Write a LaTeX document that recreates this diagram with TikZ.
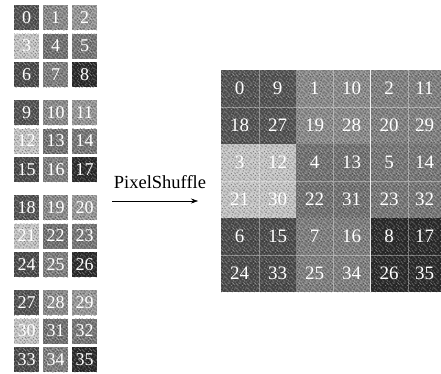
\documentclass[tikz,border=0pt]{standalone}
\usepackage{fontspec}
\setmainfont{Liberation Serif}
\usetikzlibrary{arrows.meta,patterns}
\pgfdeclarepatternformonly{noiseW}{\pgfpoint{0pt}{0pt}}{\pgfpoint{11pt}{11pt}}{\pgfpoint{11pt}{11pt}}{%
  \foreach \p/\q in {0/0,3/1,7/0,5/2,1/3,8/3,4/4,9/5,2/5,6/6,0/7,3/8,7/8,5/9,1/9,8/7,6/1,2/2,10/4,10/10,4/10,9/2,6/9,1/6}{%
    \pgfpathrectangle{\pgfpoint{\p pt}{\q pt}}{\pgfpoint{1pt}{1pt}}\pgfusepath{fill}}%
}
\pgfdeclarepatternformonly{noiseB}{\pgfpoint{0pt}{0pt}}{\pgfpoint{11pt}{11pt}}{\pgfpoint{11pt}{11pt}}{%
  \foreach \p/\q in {2/0,5/0,9/1,0/2,3/3,6/3,8/5,4/6,1/5,7/6,9/8,2/8,5/7,0/10,6/10,8/9,3/10,10/0,10/7,4/2,7/3,1/8}{%
    \pgfpathrectangle{\pgfpoint{\p pt}{\q pt}}{\pgfpoint{1pt}{1pt}}\pgfusepath{fill}}%
}
\begin{document}
\begin{tikzpicture}[x=1pt,y=-1pt,
  noisy/.style={postaction={fill opacity=0.35,pattern=noiseW,pattern color=white},
                postaction={fill opacity=0.35,pattern=noiseB,pattern color=black}},
  tile/.style={minimum width=25pt,minimum height=25pt,inner sep=0pt,draw=none,text=white,font=\fontsize{18}{18}\selectfont,noisy},
  cell/.style={minimum width=37pt,minimum height=37pt,inner sep=0pt,text=white,font=\fontsize{19}{19}\selectfont},
  lbl/.style={font=\fontsize{18.5}{18.5}\selectfont,inner sep=0pt}]
\useasboundingbox (0,0) rectangle (441,373);
% tile colours by position
\definecolor{cA}{gray}{0.33}
\definecolor{cB}{gray}{0.55}
\definecolor{cC}{gray}{0.60}
\definecolor{cD}{gray}{0.78}
\definecolor{cE}{gray}{0.45}
\definecolor{cF}{gray}{0.47}
\definecolor{cG}{gray}{0.30}
\definecolor{cH}{gray}{0.50}
\definecolor{cI}{gray}{0.17}
% left tiles
\foreach \g in {0,1,2,3}{
  \foreach \r in {0,1,2}{
    \foreach \c in {0,1,2}{
      \pgfmathtruncatemacro{\n}{9*\g+3*\r+\c}
      \pgfmathsetmacro{\xx}{26.5+29*\c}
      \pgfmathsetmacro{\yy}{17.5+95*\g+28.5*\r}
      \ifcase\r
        \def\cc{\ifcase\c cA\or cB\or cC\fi}
      \or
        \def\cc{\ifcase\c cD\or cE\or cF\fi}
      \or
        \def\cc{\ifcase\c cG\or cH\or cI\fi}
      \fi
      \edef\ccc{\cc}
      \node[tile,fill=\ccc] (t\n) at (\xx,\yy) {\n};
    }
  }
}
% arrow
\node[lbl] (ps) at (160,182) {PixelShuffle};
\coordinate (a1) at (112,201);
\coordinate (a2) at (198,201);
\draw[line width=0.5pt,-{Stealth[length=7pt,width=5pt]}] (a1) -- (a2);
% right grid blocks
\fill[cA,noisy] (221,70) rectangle (296,144);
\fill[cB,noisy] (296,70) rectangle (370,144);
\fill[cC!85!black,noisy] (370,70) rectangle (441,144);
\fill[cD,noisy] (221,144) rectangle (296,218);
\fill[cE,noisy] (296,144) rectangle (370,218);
\fill[cF,noisy] (370,144) rectangle (441,218);
\fill[cG,noisy] (221,218) rectangle (296,292);
\fill[cH,noisy] (296,218) rectangle (370,292);
\fill[cI,noisy] (370,218) rectangle (441,292);
% inner lines
\draw[white,opacity=0.35,line width=0.6pt] (259,70) -- (259,292) (333,70) -- (333,292) (408,70) -- (408,292)
  (221,107) -- (441,107) (221,181) -- (441,181) (221,255) -- (441,255);
\draw[white,opacity=0.9,line width=0.8pt] (370,70) -- (370,292);
% right grid labels
\foreach \row in {0,...,5}{
  \foreach \col/\cx in {0/239.5,1/277.5,2/314.5,3/351.5,4/389,5/424.5}{
    \pgfmathtruncatemacro{\bi}{3*floor(\row/2)+floor(\col/2)}
    \pgfmathtruncatemacro{\k}{2*mod(\row,2)+mod(\col,2)}
    \pgfmathtruncatemacro{\v}{\bi+9*\k}
    \pgfmathsetmacro{\cy}{88.5+37*\row}
    \node[cell] (g\row\col) at (\cx,\cy) {\v};
  }
}
\end{tikzpicture}
\end{document}
